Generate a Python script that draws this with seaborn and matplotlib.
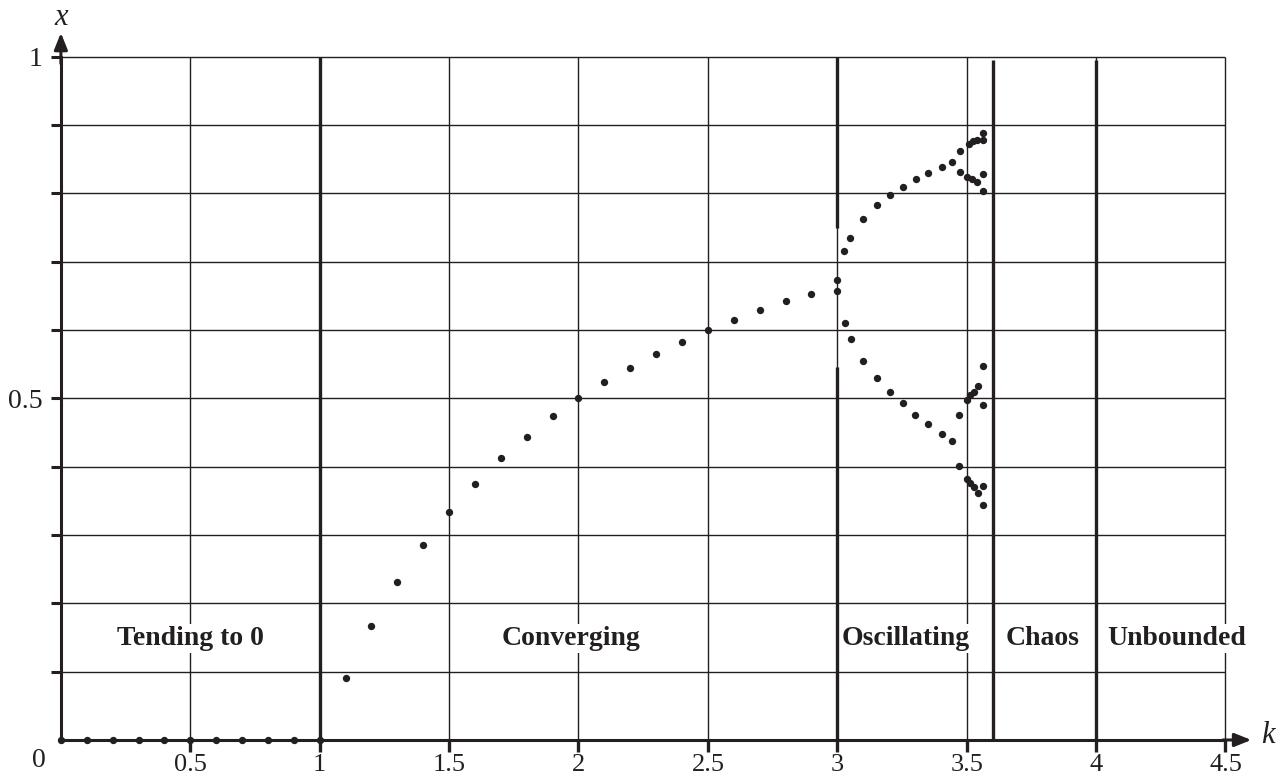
import pandas as pd
import matplotlib.pyplot as plt
import seaborn as sns

# --- data ---
# k <= 1 : tending to 0
k_zero = [0.0, 0.1, 0.2, 0.3, 0.4, 0.5, 0.6, 0.7, 0.8, 0.9, 1.0]
x_zero = [0.0, 0.0, 0.0, 0.0, 0.0, 0.0, 0.0, 0.0, 0.0, 0.0, 0.0]

# 1 < k < 3 : converging
k_conv = [1.1, 1.2, 1.3, 1.4, 1.5, 1.6, 1.7, 1.8, 1.9, 2.0,
          2.1, 2.2, 2.3, 2.4, 2.5, 2.6, 2.7, 2.8, 2.9]
x_conv = [0.091, 0.167, 0.231, 0.286, 0.333, 0.375, 0.412, 0.444, 0.474, 0.500,
          0.524, 0.545, 0.565, 0.583, 0.600, 0.615, 0.630, 0.642, 0.653]

# k >= 3 : oscillating (upper branch, then lower branch)
k_osc_up = [3.0, 3.0, 3.025, 3.05, 3.1, 3.155, 3.205, 3.255, 3.305, 3.35,
            3.405, 3.445, 3.475, 3.475, 3.51, 3.5, 3.523, 3.539, 3.564, 3.564,
            3.519, 3.539, 3.564, 3.564]
x_osc_up = [0.673, 0.657, 0.716, 0.735, 0.763, 0.783, 0.797, 0.809, 0.821, 0.830,
            0.839, 0.846, 0.862, 0.832, 0.872, 0.824, 0.876, 0.878, 0.889, 0.878,
            0.821, 0.817, 0.829, 0.803]
k_osc_low = [3.03, 3.052, 3.1, 3.155, 3.205, 3.253, 3.301, 3.349, 3.404, 3.442,
             3.472, 3.472, 3.5, 3.513, 3.528, 3.543, 3.564, 3.564,
             3.5, 3.513, 3.527, 3.544, 3.564, 3.564]
x_osc_low = [0.610, 0.587, 0.555, 0.530, 0.510, 0.493, 0.476, 0.462, 0.448, 0.438,
             0.476, 0.401, 0.498, 0.505, 0.510, 0.518, 0.548, 0.490,
             0.382, 0.376, 0.370, 0.361, 0.372, 0.344]

region_labels = ['Tending to 0', 'Converging', 'Oscillating', 'Chaos', 'Unbounded']
region_centers = [0.5, 1.97, 3.265, 3.795, 4.31]
boundaries = [1.0, 3.0, 3.6, 4.0]

x_ticks = [0.5, 1.0, 1.5, 2.0, 2.5, 3.0, 3.5, 4.0, 4.5]
x_tick_labels = ['0.5', '1', '1.5', '2', '2.5', '3', '3.5', '4', '4.5']
y_ticks = [0.1, 0.2, 0.3, 0.4, 0.5, 0.6, 0.7, 0.8, 0.9, 1.0]
y_tick_labels = ['', '', '', '', '0.5', '', '', '', '', '1']

df = pd.DataFrame({
    'k': k_zero + k_conv + k_osc_up + k_osc_low,
    'x': x_zero + x_conv + x_osc_up + x_osc_low,
})

sns.set_style('white')
plt.rcParams['font.family'] = ['Liberation Serif', 'DejaVu Serif']

INK = '#231f20'

fig = plt.figure(figsize=(12.85, 7.82), dpi=100)
ax = fig.add_axes([0, 0, 1, 1])
ax.set_xlim(-0.2353, 4.730)
ax.set_ylim(-0.0615, 1.083)

# thin grid
ax.vlines(x_ticks, 0, 1, colors=INK, lw=1.0, zorder=1)
ax.hlines(y_ticks, 0, 4.5, colors=INK, lw=1.0, zorder=1)

# region boundaries (thick); the one at k=3 leaves a gap round the split
ax.vlines([1.0], 0, 1, colors=INK, lw=2.4, zorder=4)
ax.vlines([3.0, 3.0], [0, 0.75], [0.546, 1.0], colors=INK, lw=2.4, zorder=4)
ax.vlines(boundaries[2:], 0, 0.995, colors=INK, lw=2.4, zorder=4)

sns.scatterplot(data=df, x='k', y='x', s=28, color=INK, linewidth=0,
                ax=ax, zorder=5, clip_on=False)

# axes
for side in ['top', 'right']:
    ax.spines[side].set_visible(False)
ax.spines['left'].set_position(('data', 0))
ax.spines['bottom'].set_position(('data', 0))
ax.spines['left'].set_bounds(0, 1)
ax.spines['bottom'].set_bounds(0, 4.5)
for side in ['left', 'bottom']:
    ax.spines[side].set_linewidth(2.2)
    ax.spines[side].set_color(INK)
    ax.spines[side].set_zorder(6)
arrow = dict(arrowstyle='-|>,head_length=1.0,head_width=0.4', lw=2.2, color=INK,
             shrinkA=0, shrinkB=0)
ax.annotate('', xy=(4.6, 0), xytext=(4.49, 0), arrowprops=arrow, zorder=6)
ax.annotate('', xy=(0, 1.035), xytext=(0, 0.99), arrowprops=arrow, zorder=6)

# tick marks below the k axis
ax.vlines(x_ticks, -0.018, 0, colors=INK, lw=2.4, zorder=6, clip_on=False)

ax.set_xticks(x_ticks)
ax.set_xticklabels(x_tick_labels)
ax.set_yticks(y_ticks)
ax.set_yticklabels(y_tick_labels)
ax.tick_params(axis='x', bottom=True, direction='out', length=0, width=0,
               labelsize=19, pad=10, labelcolor=INK)
ax.tick_params(axis='y', left=True, direction='out', length=7, width=2.2, color=INK,
               labelsize=20, pad=6, labelcolor=INK)
ax.set_xlabel('')
ax.set_ylabel('')

ax.text(-0.085, -0.03, '0', fontsize=20, ha='center', va='center', color=INK)
ax.text(0.0, 1.058, 'x', fontsize=22, style='italic', ha='center', va='center', color=INK)
ax.text(4.664, 0.006, 'k', fontsize=22, style='italic', ha='center', va='center', color=INK)

for label, cx in zip(region_labels, region_centers):
    ax.text(cx, 0.149, label, fontsize=20, fontweight='bold', ha='center', va='center',
            color=INK, zorder=3,
            bbox=dict(facecolor='white', edgecolor='none', pad=1.5))

fig.savefig('out.png', dpi=100)
